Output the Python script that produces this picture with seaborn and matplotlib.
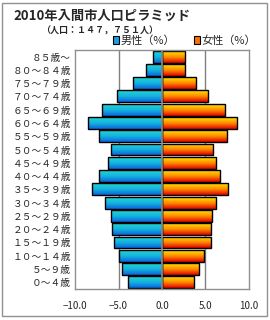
import numpy as np
import pandas as pd
import seaborn as sns
import matplotlib.pyplot as plt
from matplotlib.patches import Rectangle
from matplotlib.colors import LinearSegmentedColormap

# 年齢階級 (上から)
ages = ["８５歳～", "８０～８４歳", "７５～７９歳", "７０～７４歳", "６５～６９歳",
        "６０～６４歳", "５５～５９歳", "５０～５４歳", "４５～４９歳", "４０～４４歳",
        "３５～３９歳", "３０～３４歳", "２５～２９歳", "２０～２４歳", "１５～１９歳",
        "１０～１４歳", "５～９歳", "０～４歳"]
male = [1.0, 1.8, 3.3, 5.2, 6.9, 8.5, 7.3, 5.9, 6.2, 7.2,
        8.1, 6.6, 5.9, 5.8, 5.5, 4.9, 4.6, 3.9]
female = [2.6, 2.6, 3.9, 5.3, 7.2, 8.6, 7.5, 5.9, 6.2, 6.7,
          7.6, 6.2, 5.7, 5.6, 5.6, 4.8, 4.3, 3.7]
xticks = [-10.0, -5.0, 0.0, 5.0, 10.0]

sns.set_theme(style="white")
plt.rcParams['font.family'] = ['Noto Sans CJK JP', 'DejaVu Sans']

df = pd.DataFrame({"age": ages, "male": [-v for v in male], "female": female})

fig = plt.figure(figsize=(2.7, 3.2), dpi=100)
ax = fig.add_axes([0.278, 0.097, 0.644, 0.747])

sns.barplot(data=df, x="male", y="age", orient="h", ax=ax, width=0.9,
            color="#1aa0e0", edgecolor="black", linewidth=1.0)
sns.barplot(data=df, x="female", y="age", orient="h", ax=ax, width=0.9,
            color="#ff8000", edgecolor="black", linewidth=1.0)

# グラデーション塗り
cm_m = LinearSegmentedColormap.from_list("m", ["#22d6d0", "#14b4e0", "#0a64dc"])
cm_f = LinearSegmentedColormap.from_list("f", ["#ffe600", "#ff8c00", "#e00000"])
grad = np.linspace(0, 1, 64).reshape(-1, 1)
for p in list(ax.patches):
    x0, y0 = p.get_x(), p.get_y()
    w, h = p.get_width(), p.get_height()
    cm = cm_m if x0 + w <= 0.001 else cm_f
    im = ax.imshow(grad, cmap=cm, aspect="auto",
                   extent=[x0, x0 + w, y0 + h, y0], zorder=1.5)
    im.set_clip_path(p)
    p.set_facecolor("none")
    p.set_zorder(2)

ax.set_xlim(-10, 10)
ax.set_ylim(17.5, -0.5)
ax.set_xticks(xticks)
ax.set_xticklabels([f"{v:.1f}".replace("-", "−") for v in xticks], fontsize=7)
ax.tick_params(axis="x", length=0, pad=9)
ax.tick_params(axis="y", length=0, pad=3, labelsize=7)
ax.set_xlabel("")
ax.set_ylabel("")
for v in [-5, 5]:
    ax.axvline(v, color="#808080", lw=1.0, zorder=1)
ax.axvline(0, color="#909090", lw=1.2, zorder=3)
for s in ax.spines.values():
    s.set_color("#909090")
    s.set_linewidth(1.0)

# タイトルと凡例
fig.text(0.05, 0.95, "2010年入間市人口ピラミッド", fontsize=9.5, fontweight="bold", va="center")
fig.text(0.37, 0.903, "（人口：１４７，７５１人）", fontsize=6.5, fontweight="bold", va="center", ha="center")
fig.patches.append(Rectangle((0.418, 0.862), 0.022, 0.026, transform=fig.transFigure,
                             facecolor="#1aa0e0", edgecolor="black", lw=0.8))
fig.text(0.445, 0.873, "男性（%）", fontsize=8, va="center")
fig.patches.append(Rectangle((0.718, 0.862), 0.022, 0.026, transform=fig.transFigure,
                             facecolor="#ff7000", edgecolor="black", lw=0.8))
fig.text(0.745, 0.873, "女性（%）", fontsize=8, va="center")

# 外枠
fig.patches.append(Rectangle((0.007, 0.012), 0.983, 0.98, transform=fig.transFigure,
                             facecolor="none", edgecolor="#909090", lw=1.0))

fig.savefig("out.png", dpi=100)
